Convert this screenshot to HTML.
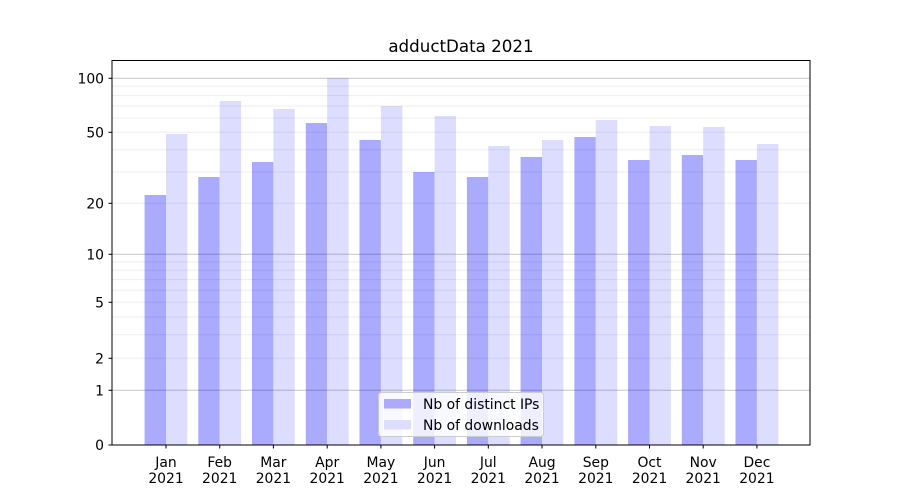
<!DOCTYPE html>
<html><head><meta charset="utf-8"><style>
html,body{margin:0;padding:0;background:#fff;}
svg{display:block;font-family:"DejaVu Sans","Liberation Sans",sans-serif;}
</style></head><body>
<svg width="900" height="500" viewBox="0 0 900 500" xmlns="http://www.w3.org/2000/svg">
<rect width="900" height="500" fill="#fff"/>
<g id="bars">
<rect x="144.6" y="195" width="21.4" height="250" fill="#aaaaff"/><rect x="166" y="134" width="21.4" height="311" fill="#ddddff"/>
<rect x="198.3" y="177" width="21.4" height="268" fill="#aaaaff"/><rect x="219.7" y="101" width="21.4" height="344" fill="#ddddff"/>
<rect x="252.0" y="162" width="21.4" height="283" fill="#aaaaff"/><rect x="273.4" y="109" width="21.4" height="336" fill="#ddddff"/>
<rect x="305.8" y="123" width="21.4" height="322" fill="#aaaaff"/><rect x="327.2" y="78" width="21.4" height="367" fill="#ddddff"/>
<rect x="359.5" y="140" width="21.4" height="305" fill="#aaaaff"/><rect x="380.9" y="106" width="21.4" height="339" fill="#ddddff"/>
<rect x="413.2" y="172" width="21.4" height="273" fill="#aaaaff"/><rect x="434.6" y="116" width="21.4" height="329" fill="#ddddff"/>
<rect x="466.9" y="177" width="21.4" height="268" fill="#aaaaff"/><rect x="488.3" y="146" width="21.4" height="299" fill="#ddddff"/>
<rect x="520.6" y="157" width="21.4" height="288" fill="#aaaaff"/><rect x="542.0" y="140" width="21.4" height="305" fill="#ddddff"/>
<rect x="574.4" y="137" width="21.4" height="308" fill="#aaaaff"/><rect x="595.8" y="120" width="21.4" height="325" fill="#ddddff"/>
<rect x="628.1" y="160" width="21.4" height="285" fill="#aaaaff"/><rect x="649.5" y="126" width="21.4" height="319" fill="#ddddff"/>
<rect x="681.8" y="155" width="21.4" height="290" fill="#aaaaff"/><rect x="703.2" y="127" width="21.4" height="318" fill="#ddddff"/>
<rect x="735.5" y="160" width="21.4" height="285" fill="#aaaaff"/><rect x="756.9" y="144" width="21.4" height="301" fill="#ddddff"/>
</g>
<g stroke="#000" stroke-opacity="0.07" stroke-width="1">
<line x1="112" x2="810" y1="334.8" y2="334.8"/><line x1="112" x2="810" y1="317" y2="317"/>
<line x1="112" x2="810" y1="290.3" y2="290.3"/><line x1="112" x2="810" y1="279.6" y2="279.6"/>
<line x1="112" x2="810" y1="270.3" y2="270.3"/><line x1="112" x2="810" y1="261.9" y2="261.9"/>
<line x1="112" x2="810" y1="172" y2="172"/><line x1="112" x2="810" y1="149.7" y2="149.7"/>
<line x1="112" x2="810" y1="118.1" y2="118.1"/><line x1="112" x2="810" y1="106" y2="106"/>
<line x1="112" x2="810" y1="95.6" y2="95.6"/><line x1="112" x2="810" y1="86.3" y2="86.3"/>
<line x1="112" x2="810" y1="358.3" y2="358.3"/><line x1="112" x2="810" y1="302.3" y2="302.3"/>
<line x1="112" x2="810" y1="203.3" y2="203.3"/><line x1="112" x2="810" y1="132.3" y2="132.3"/>
</g>
<g stroke="#000" stroke-opacity="0.22" stroke-width="1">
<line x1="112" x2="810" y1="390.3" y2="390.3"/><line x1="112" x2="810" y1="254.3" y2="254.3"/><line x1="112" x2="810" y1="78.3" y2="78.3"/>
</g>
<rect x="112" y="60.5" width="698" height="384.5" fill="none" stroke="#000" stroke-width="1"/>
<g stroke="#000" stroke-width="1">
<line x1="108.5" x2="112" y1="445" y2="445"/><line x1="108.5" x2="112" y1="390.3" y2="390.3"/>
<line x1="108.5" x2="112" y1="358.3" y2="358.3"/><line x1="108.5" x2="112" y1="302.3" y2="302.3"/>
<line x1="108.5" x2="112" y1="254.3" y2="254.3"/><line x1="108.5" x2="112" y1="203.3" y2="203.3"/>
<line x1="108.5" x2="112" y1="132.3" y2="132.3"/><line x1="108.5" x2="112" y1="78.3" y2="78.3"/>
</g>
<g font-size="13.9" text-anchor="end" fill="#000">
<text x="104" y="450">0</text><text x="104" y="395.3">1</text><text x="104" y="363.3">2</text>
<text x="104" y="307.3">5</text><text x="104" y="259.3">10</text><text x="104" y="208.3">20</text>
<text x="104" y="137.3">50</text><text x="104" y="83.3">100</text>
</g>
<g stroke="#000" stroke-width="1">
<line x1="166" x2="166" y1="445" y2="448.5"/><line x1="219.7" x2="219.7" y1="445" y2="448.5"/>
<line x1="273.4" x2="273.4" y1="445" y2="448.5"/><line x1="327.2" x2="327.2" y1="445" y2="448.5"/>
<line x1="380.9" x2="380.9" y1="445" y2="448.5"/><line x1="434.6" x2="434.6" y1="445" y2="448.5"/>
<line x1="488.3" x2="488.3" y1="445" y2="448.5"/><line x1="542" x2="542" y1="445" y2="448.5"/>
<line x1="595.8" x2="595.8" y1="445" y2="448.5"/><line x1="649.5" x2="649.5" y1="445" y2="448.5"/>
<line x1="703.2" x2="703.2" y1="445" y2="448.5"/><line x1="756.9" x2="756.9" y1="445" y2="448.5"/>
</g>
<g font-size="13.9" text-anchor="middle" fill="#000">
<text x="166" y="467">Jan</text><text x="166" y="483">2021</text>
<text x="219.7" y="467">Feb</text><text x="219.7" y="483">2021</text>
<text x="273.4" y="467">Mar</text><text x="273.4" y="483">2021</text>
<text x="327.2" y="467">Apr</text><text x="327.2" y="483">2021</text>
<text x="380.9" y="467">May</text><text x="380.9" y="483">2021</text>
<text x="434.6" y="467">Jun</text><text x="434.6" y="483">2021</text>
<text x="488.3" y="467">Jul</text><text x="488.3" y="483">2021</text>
<text x="542" y="467">Aug</text><text x="542" y="483">2021</text>
<text x="595.8" y="467">Sep</text><text x="595.8" y="483">2021</text>
<text x="649.5" y="467">Oct</text><text x="649.5" y="483">2021</text>
<text x="703.2" y="467">Nov</text><text x="703.2" y="483">2021</text>
<text x="756.9" y="467">Dec</text><text x="756.9" y="483">2021</text>
</g>
<text x="461" y="52" font-size="16.7" text-anchor="middle" fill="#000">adductData 2021</text>
<rect x="378.5" y="392.5" width="165" height="44" rx="3" fill="#fff" fill-opacity="0.8" stroke="#ccc"/>
<rect x="384" y="399" width="27" height="9.5" fill="#aaaaff"/>
<rect x="384" y="420" width="27" height="9.5" fill="#ddddff"/>
<g font-size="13.9" fill="#000">
<text x="423" y="409">Nb of distinct IPs</text>
<text x="423" y="430">Nb of downloads</text>
</g>
</svg>
</body></html>
